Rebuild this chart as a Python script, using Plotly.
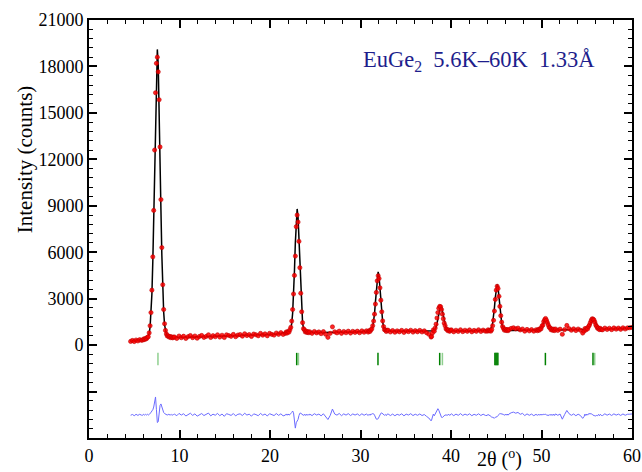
import numpy as np
import plotly.graph_objects as go

# Neutron powder pattern of EuGe2 (5.6K-60K difference, lambda = 1.33 A)
# Scan segments: (start 2theta, number of points, step)
scan_segments = [
    (4.6, 7, 0.2), (5.95, 35, 0.1), (9.45, 49, 0.25), (21.7, 27, 0.1),
    (24.4, 26, 0.25), (30.85, 22, 0.1), (33.05, 20, 0.25), (37.85, 22, 0.1),
    (40.05, 16, 0.25), (44.0, 24, 0.1), (46.4, 13, 0.25), (49.55, 20, 0.1),
    (51.55, 13, 0.25), (54.7, 20, 0.1), (56.75, 14, 0.25),
]

# Observed counts, one list per scan segment
obs_a = [240, 300, 230, 330, 270, 350, 310]
obs_p1 = [330, 400, 360, 430, 410, 500, 540, 790, 1250, 2100, 3550, 5700, 8700,
          12600, 16300, 18200, 18600, 17650, 15850, 12800, 9400, 6300, 3900, 2300,
          1380, 950, 720, 590, 600, 520, 560, 480, 530, 470, 510]
obs_b1 = [525, 430, 585, 479, 574, 429, 544, 619, 483, 588, 443, 558, 623, 497, 562,
          667, 492, 607, 541, 666, 521, 636, 491, 665, 620, 565, 690, 545, 649, 684,
          579, 734, 619, 683, 558, 713, 668, 603, 757, 642, 727, 602, 757, 691, 646,
          781, 694, 806, 690]
obs_p2 = [760, 850, 780, 880, 840, 990, 1150, 1550, 2300, 3300, 4500, 5750, 7650, 8400,
          7950, 6700, 5000, 3350, 2150, 1450, 1060, 990, 850, 900, 810, 870, 800]
obs_b2 = [860, 760, 880, 790, 850, 740, 870, 700, 500, 760, 1180, 860, 790, 900, 760,
          880, 800, 900, 780, 890, 820, 900, 800, 920, 830, 920]
obs_p3 = [840, 930, 880, 990, 1050, 1250, 1550, 2000, 2650, 3400, 4150, 4480, 4300,
          3700, 2900, 2150, 1560, 1200, 1000, 980, 880, 960]
obs_b3 = [960, 850, 940, 830, 920, 860, 950, 820, 930, 870, 960, 840, 930, 860, 950,
          850, 920, 800, 700, 520]
obs_p4 = [560, 780, 980, 900, 1100, 1350, 1750, 2100, 2380, 2500, 2480, 2300, 2000,
          1700, 1420, 1250, 1050, 1010, 930, 980, 890, 960]
obs_b4 = [980, 860, 960, 880, 990, 870, 960, 890, 980, 860, 950, 890, 990, 880, 970, 900]
obs_p5 = [900, 990, 920, 960, 900, 1000, 1250, 1600, 2200, 2950, 3550, 3800, 3650,
          3150, 2500, 1900, 1480, 1200, 1080, 960, 1020, 940, 1010, 930]
obs_b5 = [1000, 1080, 1120, 1050, 1100, 980, 1040, 900, 1010, 920, 1000, 900, 990]
obs_p6 = [930, 1010, 960, 1060, 1050, 1220, 1300, 1520, 1640, 1720, 1600, 1450, 1300,
          1150, 1120, 990, 1040, 950, 1030, 940]
obs_b6 = [1040, 950, 1030, 700, 1000, 1270, 1060, 960, 1050, 940, 1040, 960, 780]
obs_p7 = [900, 1070, 980, 1090, 1050, 1200, 1300, 1450, 1600, 1700, 1680, 1620, 1480,
          1300, 1200, 1080, 1110, 1000, 1080, 1000]
obs_b7 = [990, 1100, 1010, 1090, 1000, 1110, 1030, 1100, 1020, 1120, 1040, 1110, 1120, 1140]

# Calculated (refined) profile on the same points
calc_a = [270, 280, 290, 300, 310, 320, 335]
calc_p1 = [355, 368, 384, 402, 425, 465, 560, 760, 1180, 1960, 3300, 5380, 8200,
           11680, 15150, 17850, 19100, 18100, 15600, 12200, 8700, 5800, 3600, 2150,
           1300, 900, 700, 610, 565, 540, 525, 512, 503, 496, 490]
calc_b1 = [485, 490, 495, 499, 504, 509, 514, 519, 523, 528, 533, 538, 543, 547, 552,
           557, 562, 567, 571, 576, 581, 586, 591, 595, 600, 605, 610, 615, 619, 624,
           629, 634, 639, 643, 648, 653, 658, 663, 667, 672, 677, 682, 687, 691, 696,
           701, 733, 744, 759]
calc_p2 = [783, 796, 810, 827, 864, 926, 1078, 1404, 2056, 3168, 4765, 6611, 8163, 8795,
           8250, 6750, 4900, 3250, 2100, 1425, 1102, 954, 896, 862, 848, 838, 829]
calc_b2 = [820, 813, 809, 807, 806, 806, 806, 806, 807, 808, 810, 812, 814, 816, 818,
           820, 823, 826, 830, 834, 839, 844, 850, 855, 862, 870]
calc_p3 = [885, 895, 913, 941, 1016, 1172, 1488, 2025, 2794, 3684, 4433, 4737, 4435,
           3688, 2801, 2034, 1499, 1186, 1032, 959, 933, 917]
calc_b3 = [910, 899, 895, 891, 889, 888, 887, 887, 888, 888, 889, 891, 892, 894, 897,
           899, 902, 906, 910, 916]
calc_p4 = [916, 923, 934, 966, 1030, 1160, 1386, 1708, 2085, 2410, 2560, 2463, 2177,
           1821, 1494, 1252, 1095, 1007, 961, 940, 929, 923]
calc_b4 = [920, 917, 916, 915, 915, 915, 916, 917, 918, 919, 920, 922, 925, 928, 932, 940]
calc_p5 = [949, 956, 970, 991, 1049, 1169, 1413, 1827, 2422, 3109, 3689, 3923, 3690,
           3111, 2425, 1831, 1418, 1175, 1056, 999, 979, 966, 960, 956]
calc_b5 = [954, 950, 948, 948, 948, 949, 950, 951, 952, 953, 955, 957, 960]
calc_p6 = [970, 976, 991, 1020, 1078, 1177, 1319, 1483, 1621, 1677, 1623, 1487, 1325,
           1185, 1088, 1032, 1005, 992, 988, 986]
calc_b6 = [985, 983, 984, 986, 988, 990, 993, 995, 998, 1000, 1003, 1007, 1012]
calc_p7 = [1019, 1023, 1029, 1044, 1073, 1131, 1230, 1372, 1536, 1674, 1730, 1676,
           1540, 1378, 1238, 1141, 1085, 1058, 1045, 1041]
calc_b7 = [1038, 1036, 1038, 1041, 1045, 1049, 1053, 1057, 1062, 1066, 1071, 1076, 1082, 1088]

# Bragg reflection positions (2theta)
bragg_dark = [22.95, 31.93, 38.75, 44.85, 44.96, 45.07, 45.18, 50.43, 55.69]
bragg_light = [7.62, 23.14, 39.05, 55.88]
bragg_top, bragg_bottom = -500, -1300
diff_offset = -4500

# Axis ticks
y_labelled = list(range(0, 21001, 3000))
y_unlabelled = [-6000, -3000]
y_minor = [v for v in range(-6000, 21001, 600) if v % 3000 != 0]

obs_lists = [obs_a, obs_p1, obs_b1, obs_p2, obs_b2, obs_p3, obs_b3, obs_p4, obs_b4,
             obs_p5, obs_b5, obs_p6, obs_b6, obs_p7, obs_b7]
calc_lists = [calc_a, calc_p1, calc_b1, calc_p2, calc_b2, calc_p3, calc_b3, calc_p4,
              calc_b4, calc_p5, calc_b5, calc_p6, calc_b6, calc_p7, calc_b7]

two_theta = np.concatenate([np.round(s + d * np.arange(n), 3) for s, n, d in scan_segments])
y_obs = np.concatenate([np.array(v, float) for v in obs_lists])
y_calc = np.concatenate([np.array(v, float) for v in calc_lists])
assert len(two_theta) == len(y_obs) == len(y_calc)
y_diff = y_obs - y_calc + diff_offset


def tick_path(positions):
    xs, ys = [], []
    for p in positions:
        xs += [p, p, None]
        ys += [bragg_top, bragg_bottom, None]
    return xs, ys


SERIF = "Liberation Serif, Times New Roman, serif"

fig = go.Figure()
fig.add_trace(go.Scatter(x=two_theta, y=y_diff, mode="lines",
                         line=dict(color="#6b6bff", width=1), hoverinfo="skip"))
bx, by = tick_path(bragg_light)
fig.add_trace(go.Scatter(x=bx, y=by, mode="lines",
                         line=dict(color="#8fcf8f", width=1.5), hoverinfo="skip"))
bx, by = tick_path(bragg_dark)
fig.add_trace(go.Scatter(x=bx, y=by, mode="lines",
                         line=dict(color="#008000", width=1.5), hoverinfo="skip"))
fig.add_trace(go.Scatter(x=two_theta, y=y_calc, mode="lines",
                         line=dict(color="black", width=1.5)))
fig.add_trace(go.Scatter(x=two_theta, y=y_obs, mode="markers",
                         marker=dict(symbol="circle", size=4.2, color="rgba(255,0,0,0.85)",
                                     line=dict(color="#c00000", width=0.6))))

axis_common = dict(showline=True, linecolor="black", linewidth=2, mirror="ticks",
                   ticks="inside", ticklen=8, tickwidth=1.6, tickcolor="black",
                   showgrid=False, zeroline=False, automargin=False,
                   tickfont=dict(family=SERIF, size=18, color="black"))

fig.update_layout(
    width=642, height=472, autosize=False,
    margin=dict(l=89, r=10, t=20, b=34, pad=0),
    plot_bgcolor="white", paper_bgcolor="white",
    showlegend=False,
    xaxis=dict(range=[0, 60], tickmode="linear", tick0=0, dtick=10,
               minor=dict(tickmode="linear", tick0=0, dtick=2, ticks="inside",
                          ticklen=4, tickwidth=1.2, tickcolor="black"),
               **axis_common),
    yaxis=dict(range=[-6000, 21000], tickmode="array", tickvals=y_labelled,
               ticktext=[str(v) for v in y_labelled],
               minor=dict(tickmode="array", tickvals=y_minor, ticks="inside",
                          ticklen=4, tickwidth=1.2, tickcolor="black"),
               **axis_common),
    # unlabelled major ticks below zero (difference/reflection region)
    yaxis2=dict(range=[-6000, 21000], overlaying="y", anchor="x", side="left",
                tickmode="array", tickvals=y_unlabelled, showticklabels=False,
                **axis_common),
)
fig.add_trace(go.Scatter(x=[None], y=[None], yaxis="y2", hoverinfo="skip"))

fig.add_annotation(x=43.1, y=18350, xref="x", yref="y", showarrow=False,
                   text="EuGe<sub>2</sub>\u00a0\u00a05.6K\u201360K\u00a0\u00a01.33\u00c5",
                   font=dict(family=SERIF, size=22.5, color="#1e1e8c"),
                   xanchor="center", yanchor="middle")
fig.add_annotation(x=-0.118, y=12000, xref="paper", yref="y", showarrow=False,
                   text="Intensity (counts)", textangle=-90,
                   font=dict(family=SERIF, size=21, color="black"),
                   xanchor="center", yanchor="middle")
fig.add_annotation(x=45.4, y=-0.05, xref="x", yref="paper", showarrow=False,
                   text="2\u03b8 (<sup>o</sup>)",
                   font=dict(family=SERIF, size=20, color="black"),
                   xanchor="center", yanchor="middle")

fig.write_html("out.html")
